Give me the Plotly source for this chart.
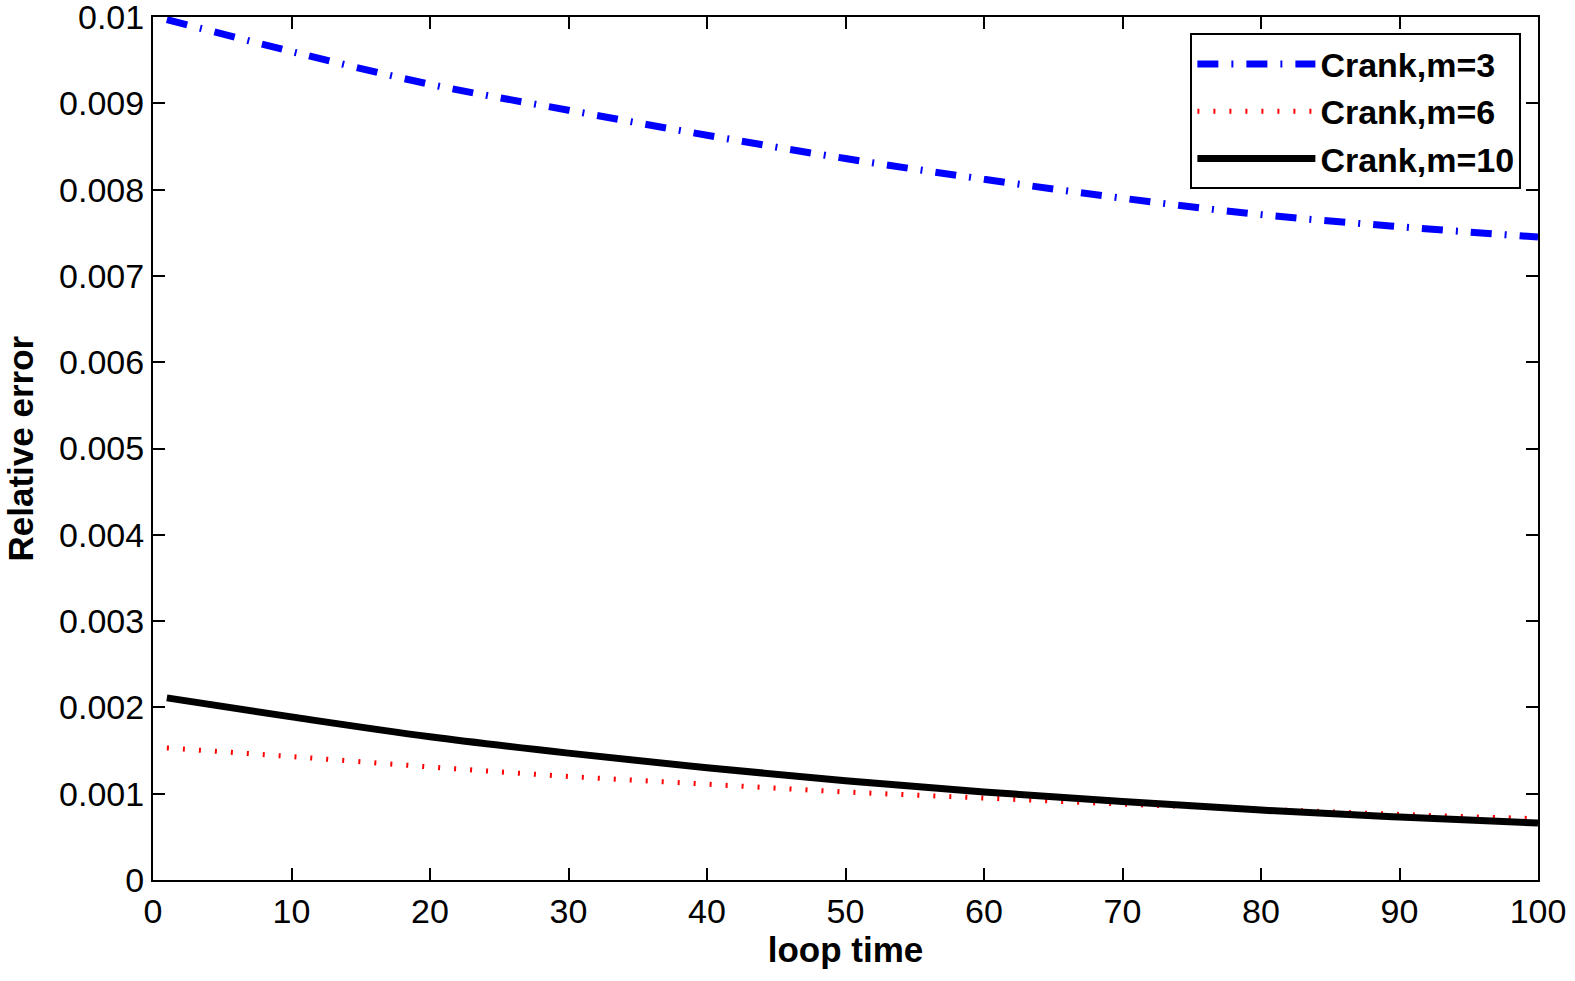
import plotly.graph_objects as go

loop_time = [1, 10, 20, 30, 40, 50, 60, 70, 80, 90, 100]
err_m3 = [0.00997, 0.00960, 0.00922, 0.00892, 0.00863, 0.00836, 0.00812, 0.00790, 0.00771, 0.00757, 0.00745]
err_m6 = [0.00153, 0.00143, 0.00131, 0.00120, 0.00111, 0.00102, 0.00095, 0.00088, 0.00082, 0.00076, 0.00071]
err_m10 = [0.00211, 0.00189, 0.00166, 0.00147, 0.00130, 0.00115, 0.00102, 0.00091, 0.00081, 0.00073, 0.00066]

x_ticks = [0, 10, 20, 30, 40, 50, 60, 70, 80, 90, 100]
y_ticks = [0, 0.001, 0.002, 0.003, 0.004, 0.005, 0.006, 0.007, 0.008, 0.009, 0.01]
y_tick_text = ["0", "0.001", "0.002", "0.003", "0.004", "0.005", "0.006", "0.007", "0.008", "0.009", "0.01"]

FONT = "Liberation Sans, Arial, sans-serif"

fig = go.Figure()
fig.add_trace(go.Scatter(x=loop_time, y=err_m3, mode="lines", name="<b>Crank,m=3</b>",
                         line=dict(color="#0000ff", width=7, dash="21px,13px,2px,13px", shape="spline")))
fig.add_trace(go.Scatter(x=loop_time, y=err_m6, mode="lines", name="<b>Crank,m=6</b>",
                         line=dict(color="#ff0000", width=5, dash="2px,14px", shape="spline")))
fig.add_trace(go.Scatter(x=loop_time, y=err_m10, mode="lines", name="<b>Crank,m=10</b>",
                         line=dict(color="#000000", width=7, shape="spline")))

axis_common = dict(
    showline=True, linecolor="black", linewidth=2, mirror="ticks",
    ticks="inside", ticklen=12, tickwidth=2, tickcolor="black",
    showgrid=False, zeroline=False, ticklabeloverflow="allow",
    tickfont=dict(family=FONT, size=34, color="black"),
)

fig.update_layout(
    width=1575, height=981,
    margin=dict(l=153, r=37, t=17, b=101, autoexpand=False),
    paper_bgcolor="white", plot_bgcolor="white",
    font=dict(family=FONT, size=34, color="black"),
    xaxis=dict(range=[0, 100], tickvals=x_ticks,
               title=dict(text="<b>loop time</b>", font=dict(family=FONT, size=35), standoff=6),
               **axis_common),
    yaxis=dict(range=[0, 0.01], tickvals=y_ticks, ticktext=y_tick_text, **axis_common),
    legend=dict(x=0.988, y=0.981, xanchor="right", yanchor="top",
                bgcolor="white", bordercolor="black", borderwidth=2,
                font=dict(family=FONT, size=34, color="black"),
                itemwidth=118, tracegroupgap=0),
    showlegend=True,
    annotations=[dict(text="<b>Relative error</b>", textangle=-90, showarrow=False,
                      xref="paper", yref="paper", x=0, y=0.5, xanchor="center", yanchor="middle",
                      xshift=-133, font=dict(family=FONT, size=35, color="black"))],
)

fig.write_html("out.html")
